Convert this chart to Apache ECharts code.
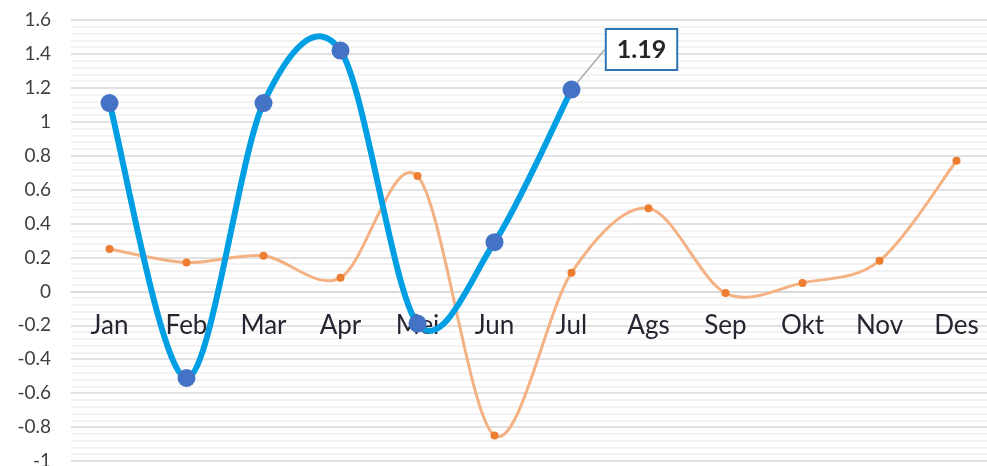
<!DOCTYPE html>
<html><head><meta charset="utf-8">
<script src="https://cdn.jsdelivr.net/npm/echarts@6/dist/echarts.min.js"></script>
<style>html,body{margin:0;padding:0;background:#fff}#c{width:987px;height:466px}</style>
</head><body><div id="c"></div>
<script>
const categories = ['Jan','Feb','Mar','Apr','Mei','Jun','Jul','Ags','Sep','Okt','Nov','Des'];
const blueValues = [1.11, -0.51, 1.11, 1.42, -0.19, 0.29, 1.19];
const orangeValues = [0.25, 0.17, 0.21, 0.08, 0.68, -0.85, 0.11, 0.49, -0.01, 0.05, 0.18, 0.77];
const yMin = -1, yMax = 1.6, yStep = 0.2;

const font = 'Lato, "Open Sans", sans-serif';
const gridTop = 20, gridHeight = 441;
// place the category axis on the value 0 line
const xAxisOffset = -gridHeight * (0 - yMin) / (yMax - yMin);

// Excel-like smooth (Catmull-Rom) segment drawn through the axes' own coordinate mapping
function smoothSegment(color, width) {
  return function (params, api) {
    const i = params.dataIndexInside;
    const n = params.dataInsideLength;
    if (i >= n - 1) return null;
    const P = j => {
      const k = Math.max(0, Math.min(n - 1, j));
      return api.coord([api.value(0, k), api.value(1, k)]);
    };
    const p0 = P(i - 1), p1 = P(i), p2 = P(i + 1), p3 = P(i + 2);
    const t = 0.16;
    return {
      type: 'bezierCurve',
      shape: {
        x1: p1[0], y1: p1[1], x2: p2[0], y2: p2[1],
        cpx1: p1[0] + (p2[0] - p0[0]) * t, cpy1: p1[1] + (p2[1] - p0[1]) * t,
        cpx2: p2[0] - (p3[0] - p1[0]) * t, cpy2: p2[1] - (p3[1] - p1[1]) * t
      },
      style: { stroke: color, lineWidth: width, fill: null, lineCap: 'round' }
    };
  };
}

const chart = echarts.init(document.getElementById('c'));
chart.setOption({
  animation: false,
  grid: { left: 71, top: gridTop, width: 924, height: gridHeight, containLabel: false, outerBoundsMode: 'none' },
  xAxis: {
    type: 'category', data: categories, boundaryGap: true,
    offset: xAxisOffset,
    axisLine: { show: true, onZero: false, lineStyle: { color: '#d9d9d9', width: 1.5 } },
    axisTick: { show: false },
    axisLabel: { color: '#262633', fontSize: 26, fontFamily: font, margin: 21 },
    splitLine: { show: false }
  },
  yAxis: {
    type: 'value', min: yMin, max: yMax, interval: yStep,
    axisLine: { show: false }, axisTick: { show: false },
    axisLabel: { color: '#404040', fontSize: 19, fontFamily: font, margin: 20 },
    splitLine: { show: true, lineStyle: { color: '#d9d9d9', width: 1.5 } },
    minorTick: { show: false, splitNumber: 5 },
    minorSplitLine: { show: true, lineStyle: { color: '#efefef', width: 1.5 } }
  },
  series: [
    {
      type: 'custom', z: 1, silent: true,
      data: orangeValues.map((v, i) => [i, v]),
      encode: { x: 0, y: 1 },
      renderItem: smoothSegment('#f4b183', 3)
    },
    {
      type: 'line', data: orangeValues, z: 2,
      lineStyle: { width: 0, opacity: 0 },
      symbol: 'circle', symbolSize: 8,
      itemStyle: { color: '#ed7d31' }
    },
    {
      type: 'custom', z: 3, silent: true,
      data: blueValues.map((v, i) => [i, v]),
      encode: { x: 0, y: 1 },
      renderItem: smoothSegment('#009fe3', 6)
    },
    {
      type: 'line', z: 4,
      data: blueValues.map((v, i) => i === blueValues.length - 1 ? {
        value: v,
        label: {
          show: true, position: 'inside', formatter: '{c}',
          color: '#262626', fontSize: 25, fontWeight: 'bold', fontFamily: font,
          backgroundColor: '#fff', borderColor: '#2e75b6', borderWidth: 2,
          padding: [8, 10, 6, 10]
        }
      } : v),
      lineStyle: { width: 0, opacity: 0 },
      symbol: 'circle', symbolSize: 18,
      itemStyle: { color: '#4472c4' },
      labelLine: { show: true, lineStyle: { color: '#a6a6a6', width: 1.5 } },
      labelLayout: { dx: 70, dy: -40 }
    }
  ]
});
</script></body></html>
